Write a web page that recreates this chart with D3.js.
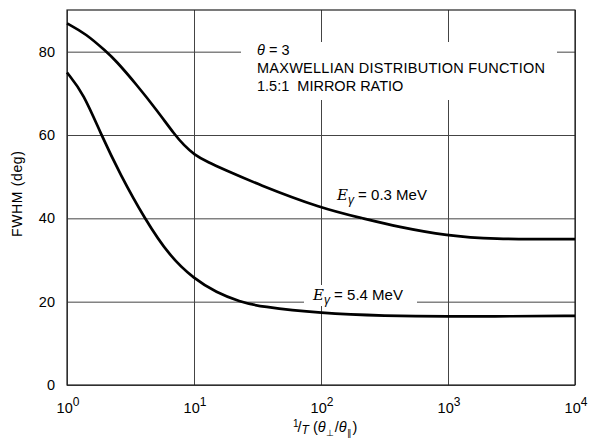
<!DOCTYPE html>
<html>
<head>
<meta charset="utf-8">
<script src="https://cdn.jsdelivr.net/npm/d3@7"></script>
<style>
  html, body { margin: 0; padding: 0; background: #fff; }
  svg { display: block; font-family: "Liberation Sans", Arial, Helvetica, sans-serif; }
</style>
</head>
<body>
<svg id="chart" width="591" height="438"></svg>
<script>
// ---- data ----
const xTicks = [1, 10, 100, 1000, 10000];
const xTickExponents = ["0", "1", "2", "3", "4"];
const yTicks = [0, 20, 40, 60, 80];

// E_gamma = 0.3 MeV curve
const xLow = [1, 1.41, 2.04, 2.40, 3.55, 5.08, 7.08, 8.3, 10, 13, 17, 31.6, 100, 214, 398, 1000, 2138, 10000];
const yLow = [86.8, 84.3, 80, 78, 72, 66, 60, 57.6, 55.3, 53.4, 51.8, 48.2, 42.4, 40, 38, 35.8, 35, 35];

// E_gamma = 5.4 MeV curve
const xHigh = [1, 1.35, 1.86, 2.63, 4.07, 6.46, 10, 15, 22.9, 33.1, 100, 316, 1000, 3162, 10000];
const yHigh = [75, 70, 60, 50.5, 40, 30.8, 25.5, 22.2, 20, 18.8, 17.2, 16.6, 16.4, 16.5, 16.6];

const seriesLabels = ["0.3 MeV", "5.4 MeV"];
const noteLines = ["MAXWELLIAN DISTRIBUTION FUNCTION", "1.5:1  MIRROR RATIO"];

// ---- drawing ----
const svg = d3.select("#chart");
const x = d3.scaleLog().domain([1, 10000]).range([67, 575]);
const y = d3.scaleLinear().domain([0, 90]).range([385, 10]);
const gridColor = "#444";

// grid lines
svg.append("g")
  .attr("transform", `translate(0,${y(0)})`)
  .call(d3.axisBottom(x).tickValues(xTicks).tickSize(-(y(0) - y(90))).tickFormat(""))
  .call(g => g.select(".domain").remove())
  .call(g => g.selectAll("line").attr("stroke", gridColor).attr("stroke-width", 1));

svg.append("g")
  .attr("transform", `translate(${x(1)},0)`)
  .call(d3.axisLeft(y).tickValues(yTicks).tickSize(-(x(10000) - x(1))).tickFormat(""))
  .call(g => g.select(".domain").remove())
  .call(g => g.selectAll("line").attr("stroke", gridColor).attr("stroke-width", 1));

// frame
svg.append("rect")
  .attr("x", x(1)).attr("y", y(90))
  .attr("width", x(10000) - x(1)).attr("height", y(0) - y(90))
  .attr("fill", "none").attr("stroke", "#222").attr("stroke-width", 1.2);

// white backgrounds behind annotations
svg.append("rect").attr("x", 241).attr("y", 42).attr("width", 316).attr("height", 58).attr("fill", "#fff");
svg.append("rect").attr("x", 304).attr("y", 285).attr("width", 113).attr("height", 21).attr("fill", "#fff");

// curves
const line = d3.line()
  .x(d => x(d[0]))
  .y(d => y(d[1]))
  .curve(d3.curveBasis);

[[xLow, yLow], [xHigh, yHigh]].forEach(([xs, ys]) => {
  svg.append("path")
    .datum(xs.map((v, i) => [v, ys[i]]))
    .attr("d", line)
    .attr("fill", "none")
    .attr("stroke", "#000")
    .attr("stroke-width", 2.7)
    .attr("stroke-linejoin", "round");
});

// y tick labels
svg.append("g").selectAll("text")
  .data(yTicks).join("text")
  .attr("x", 55)
  .attr("y", d => y(d) + 5)
  .attr("text-anchor", "end")
  .attr("font-size", 14.5)
  .text(d => d);

// x tick labels 10^n
const xl = svg.append("g").selectAll("text")
  .data(xTicks).join("text")
  .attr("x", d => x(d) + 1)
  .attr("y", 413)
  .attr("text-anchor", "middle")
  .attr("font-size", 14.5);
xl.append("tspan").text("10");
xl.append("tspan").attr("dy", -7).attr("font-size", 12).text((d, i) => xTickExponents[i]);

// y axis title
svg.append("text")
  .attr("transform", "translate(22,194) rotate(-90)")
  .attr("text-anchor", "middle")
  .attr("font-size", 14)
  .attr("textLength", 86)
  .text("FWHM (deg)");

// x axis title  1/T (θ⊥/θ∥)
const xt = svg.append("text")
  .attr("x", 293).attr("y", 432)
  .attr("font-size", 14.5);
xt.append("tspan").attr("font-size", 10).attr("dy", -5).text("1");
xt.append("tspan").attr("dy", 5).attr("dx", -1).text("/");
xt.append("tspan").attr("font-style", "italic").attr("font-size", 12).attr("dy", 2).text("T");
xt.append("tspan").attr("dy", -2).text(" (");
xt.append("tspan").attr("font-style", "italic").text("θ");
xt.append("tspan").attr("font-size", 9).attr("dy", 4).text("⊥");
xt.append("tspan").attr("dy", -4).attr("dx", 1).text("/");
xt.append("tspan").attr("font-style", "italic").text("θ");
xt.append("tspan").attr("font-size", 9).attr("dy", 4).text("∥");
xt.append("tspan").attr("dy", -4).attr("dx", 1).text(")");

// note block
const nt = svg.append("text").attr("x", 257).attr("y", 55).attr("font-size", 14.5);
nt.append("tspan").attr("font-style", "italic").text("θ");
nt.append("tspan").text(" = 3");
svg.append("g").selectAll("text")
  .data(noteLines).join("text")
  .attr("x", 257)
  .attr("y", (d, i) => 73 + i * 18)
  .attr("font-size", 14.5)
  .attr("xml:space", "preserve")
  .attr("textLength", (d, i) => i === 0 ? 288 : null)
  .text(d => d);

// series labels
const labelPos = [[337, 200], [313, 300]];
seriesLabels.forEach((s, i) => {
  const t = svg.append("text")
    .attr("x", labelPos[i][0]).attr("y", labelPos[i][1])
    .attr("font-size", 15);
  t.append("tspan").attr("font-style", "italic").attr("font-family", "DejaVu Serif, serif").text("E");
  t.append("tspan").attr("font-style", "italic").attr("font-size", 12).attr("dy", 4).text("γ");
  t.append("tspan").attr("dy", -4).text(" = " + s);
});
</script>
</body>
</html>
